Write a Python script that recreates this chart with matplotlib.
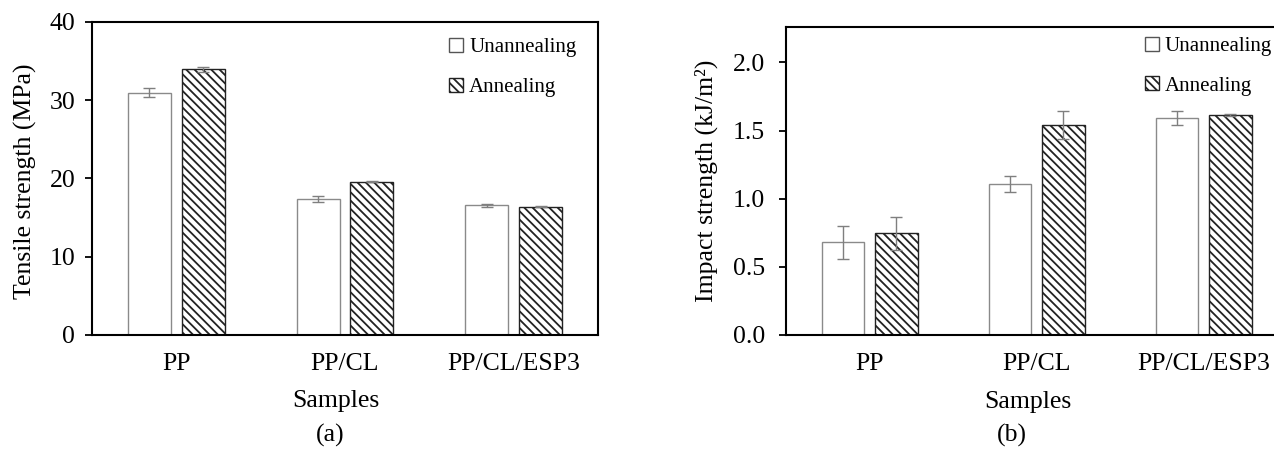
import numpy as np
import matplotlib
matplotlib.use("Agg")
import matplotlib.pyplot as plt
from matplotlib.patches import Patch

plt.rcParams['font.family'] = ['Liberation Serif', 'DejaVu Serif']
plt.rcParams['hatch.linewidth'] = 1.3

# data
samples = ['PP', 'PP/CL', 'PP/CL/ESP3']
tensile_unann = [30.95, 17.35, 16.6]
tensile_unann_err = [0.55, 0.35, 0.2]
tensile_ann = [33.95, 19.6, 16.4]
tensile_ann_err = [0.3, 0.1, 0.1]

impact_unann = [0.68, 1.11, 1.59]
impact_unann_err = [0.12, 0.06, 0.05]
impact_ann = [0.745, 1.54, 1.615]
impact_ann_err = [0.12, 0.10, 0.01]

fig = plt.figure(figsize=(12.74, 4.5), dpi=100)
ax1 = fig.add_axes([0.0722, 0.2556, 0.3972, 0.6956])
ax2 = fig.add_axes([0.617, 0.2556, 0.3933, 0.6844])

x = np.arange(len(samples))
w = 0.255
off = 0.16
err_kw = dict(ecolor='#7f7f7f', elinewidth=1.0, capsize=4, capthick=1.0)


def draw(ax, unann, unann_err, ann, ann_err):
    ax.bar(x - off, unann, w, yerr=unann_err, color='white', edgecolor='#8a8a8a',
           linewidth=1.0, error_kw=err_kw, zorder=2)
    ax.bar(x + off, ann, w, yerr=ann_err, color='white', edgecolor='#222222',
           hatch='\\\\\\\\', linewidth=1.0, error_kw=err_kw, zorder=2)
    ax.set_xticks(x)
    ax.set_xticklabels(samples)
    ax.set_xlim(-0.5, 2.5)
    ax.tick_params(axis='x', length=0, pad=13, labelsize=18.5)
    ax.tick_params(axis='y', direction='out', length=5, width=1.3, pad=7, labelsize=18.5)
    for s in ax.spines.values():
        s.set_linewidth(1.5)
        s.set_color('black')
    handles = [Patch(facecolor='white', edgecolor='#555555', linewidth=1.0, label='Unannealing'),
               Patch(facecolor='white', edgecolor='#222222', hatch='\\\\\\\\', linewidth=1.0,
                     label='Annealing')]
    return handles


h = draw(ax1, tensile_unann, tensile_unann_err, tensile_ann, tensile_ann_err)
ax1.set_ylim(0, 40)
ax1.set_yticks([0, 10, 20, 30, 40])
ax1.set_ylabel('Tensile strength (MPa)', fontsize=18.5)
ax1.yaxis.set_label_coords(-0.109, 0.49)
ax1.set_xlabel('Samples', fontsize=18.5)
ax1.xaxis.set_label_coords(0.482, -0.176)
ax1.legend(handles=h, loc='upper left', bbox_to_anchor=(0.69, 0.975), frameon=False,
           fontsize=15, handlelength=0.65, handleheight=0.65, handletextpad=0.3,
           labelspacing=0.97, borderaxespad=0)

h = draw(ax2, impact_unann, impact_unann_err, impact_ann, impact_ann_err)
ax2.set_ylim(0, 2.26)
ax2.set_yticks([0.0, 0.5, 1.0, 1.5, 2.0])
ax2.set_yticklabels(['0.0', '0.5', '1.0', '1.5', '2.0'])
ax2.tick_params(axis='y', pad=10)
ax2.set_ylabel('Impact strength (kJ/m²)', fontsize=18.5)
ax2.yaxis.set_label_coords(-0.136, 0.5)
ax2.set_xlabel('Samples', fontsize=18.5)
ax2.xaxis.set_label_coords(0.483, -0.182)
ax2.legend(handles=h, loc='upper left', bbox_to_anchor=(0.7, 0.995), frameon=False,
           fontsize=15, handlelength=0.65, handleheight=0.65, handletextpad=0.3,
           labelspacing=0.97, borderaxespad=0)

fig.text(330 / 1274, 1 - 435 / 450, '(a)', ha='center', va='center', fontsize=18.5)
fig.text(1012 / 1274, 1 - 435 / 450, '(b)', ha='center', va='center', fontsize=18.5)

fig.savefig('out.png', dpi=100)
